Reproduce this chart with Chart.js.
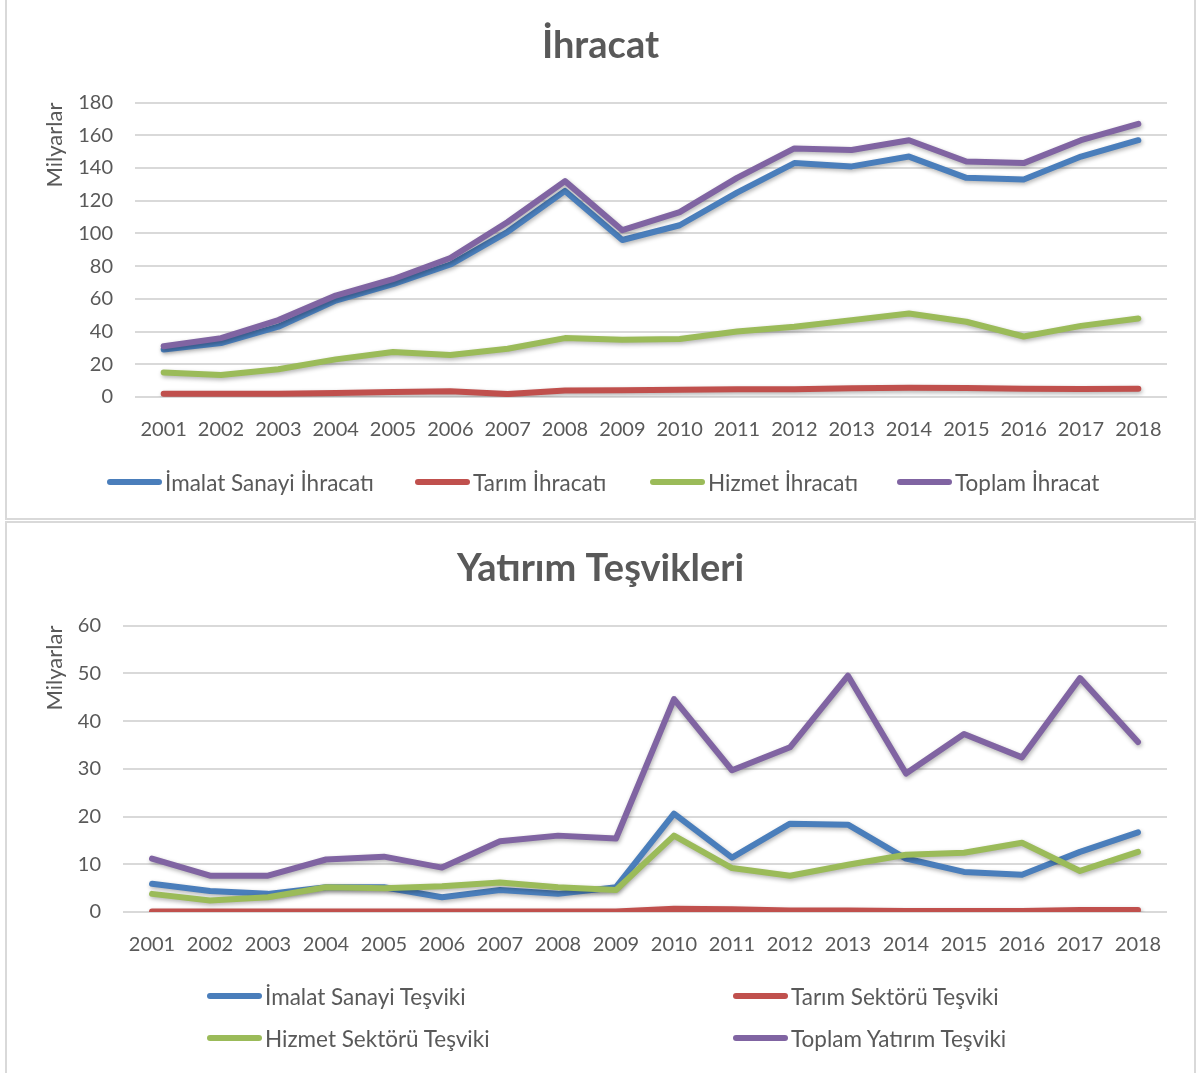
<!DOCTYPE html>
<html lang="tr">
<head>
<meta charset="utf-8">
<title>İhracat ve Yatırım Teşvikleri</title>
<script src="https://cdn.jsdelivr.net/npm/chart.js@4.4.1/dist/chart.umd.min.js"></script>
<style>
    body { margin: 0; background: #fff; width: 1196px; height: 1073px; overflow: hidden; position: relative; font-family: Lato, sans-serif; }
    .box { position: absolute; left: 5px; width: 1191px; border: 2px solid #d9d9d9; box-sizing: border-box; }
    #box1 { top: -2px; height: 522px; }
    #box2 { top: 521px; height: 560px; }
    .wrap { position: absolute; left: 0; top: 0; width: 1187px; }
    .legend { position: absolute; left: 0; top: 0; width: 1187px; height: 100%; pointer-events: none; }
    .item { position: absolute; display: flex; align-items: center; height: 28px; margin-top: -14px; font-size: 22.5px; color: #595959; white-space: nowrap; }
    .item .swatch { display: inline-block; width: 55px; height: 6px; border-radius: 3px; margin-right: 3px; }
</style>
</head>
<body>
<div class="box" id="box1">
    <div class="wrap" style="height:460px"><canvas id="ihracatChart"></canvas></div>
    <div class="legend" id="ihracatLegend"></div>
</div>
<div class="box" id="box2">
    <div class="wrap" style="height:452px"><canvas id="tesvikChart"></canvas></div>
    <div class="legend" id="tesvikLegend"></div>
</div>
<script>
// years on the x axis
const years = ['2001','2002','2003','2004','2005','2006','2007','2008','2009','2010','2011','2012','2013','2014','2015','2016','2017','2018'];

// İhracat (milyar)
const ihracatImalat = [29, 33, 43, 59, 69, 81, 101, 126, 96, 105, 125, 143, 141, 147, 134, 133, 147, 157];
const ihracatTarim  = [2, 2, 2, 2.5, 3, 3.5, 1.8, 4, 4.2, 4.5, 4.8, 4.8, 5.3, 5.7, 5.5, 5, 4.9, 5];
const ihracatHizmet = [15, 13.5, 17, 23, 27.5, 25.7, 29.5, 36, 35, 35.5, 40, 43, 47, 51, 46, 37, 43.5, 48];
const ihracatToplam = [31, 36, 47, 62, 72, 85, 107, 132, 102, 113, 134, 152, 151, 157, 144, 143, 157, 167];
const ihracatLabels = ['İmalat Sanayi İhracatı', 'Tarım İhracatı', 'Hizmet İhracatı', 'Toplam İhracat'];
const ihracatTicks = [0, 20, 40, 60, 80, 100, 120, 140, 160, 180];

// Yatırım teşvikleri (milyar)
const tesvikImalat = [5.9, 4.4, 3.8, 5.2, 5.2, 3.1, 4.6, 3.8, 5.2, 20.6, 11.4, 18.5, 18.3, 11.2, 8.4, 7.8, 12.6, 16.7];
const tesvikTarim  = [0.1, 0.1, 0.1, 0.1, 0.1, 0.1, 0.1, 0.1, 0.1, 0.7, 0.6, 0.3, 0.3, 0.2, 0.2, 0.2, 0.4, 0.4];
const tesvikHizmet = [3.8, 2.4, 3.1, 5.2, 5.0, 5.4, 6.2, 5.2, 4.6, 16, 9.2, 7.6, 9.9, 12, 12.4, 14.5, 8.6, 12.6];
const tesvikToplam = [11.2, 7.6, 7.6, 11, 11.6, 9.3, 14.8, 16, 15.4, 44.6, 29.7, 34.5, 49.5, 29, 37.3, 32.4, 49, 35.6];
const tesvikLabels = ['İmalat Sanayi Teşviki', 'Tarım Sektörü Teşviki', 'Hizmet Sektörü Teşviki', 'Toplam Yatırım Teşviki'];
const tesvikTicks = [0, 10, 20, 30, 40, 50, 60];

const colors = ['#4A7EBB', '#C0504D', '#9BBB59', '#8064A2'];
const textColor = '#595959';

Chart.defaults.font.family = 'Lato, sans-serif';
Chart.defaults.color = textColor;

// soft drop shadow under each line, like the office chart
const lineShadow = {
    id: 'lineShadow',
    beforeDatasetDraw(chart) {
        const c = chart.ctx;
        c.save();
        c.shadowColor = 'rgba(0,0,0,0.3)';
        c.shadowBlur = 4;
        c.shadowOffsetX = 1;
        c.shadowOffsetY = 2;
    },
    afterDatasetDraw(chart) {
        chart.ctx.restore();
    }
};

function makeDatasets(labels, series) {
    return series.map((values, i) => ({
        label: labels[i],
        data: values,
        borderColor: colors[i],
        backgroundColor: colors[i],
        borderWidth: 6,
        borderCapStyle: 'round',
        borderJoinStyle: 'round',
        pointRadius: 0,
        tension: 0,
        order: 3 - i
    }));
}

function createChart(id, title, labels, series, ticks, yAxisWidth) {
    const ctx = document.getElementById(id);
    return new Chart(ctx, {
        type: 'line',
        data: { labels: years, datasets: makeDatasets(labels, series) },
        plugins: [lineShadow],
        options: {
            responsive: true,
            maintainAspectRatio: false,
            animation: false,
            layout: { padding: { left: 27, right: 27, top: 0, bottom: 0 } },
            scales: {
                x: {
                    offset: true,
                    grid: { display: false },
                    border: { display: false },
                    ticks: { font: { size: 20 }, color: textColor, padding: 13, maxRotation: 0, autoSkip: false },
                    afterFit: scale => { scale.height = 63; }
                },
                y: {
                    min: ticks[0],
                    max: ticks[ticks.length - 1],
                    grid: { color: '#d9d9d9', lineWidth: 2, drawTicks: false },
                    border: { display: false },
                    ticks: { stepSize: ticks[1] - ticks[0], font: { size: 20 }, color: textColor, padding: 22 },
                    title: { display: true, text: 'Milyarlar', align: 'end', font: { size: 22 }, color: textColor, padding: { top: 8, bottom: 0 } },
                    afterFit: scale => { scale.width = yAxisWidth; }
                }
            },
            plugins: {
                legend: { display: false },
                tooltip: { enabled: false },
                title: {
                    display: true,
                    text: title,
                    color: textColor,
                    font: { size: 38, weight: 'bold' },
                    padding: { top: 23, bottom: 34 }
                }
            }
        }
    });
}

function createLegend(id, labels, spots) {
    const box = document.getElementById(id);
    labels.forEach((label, i) => {
        const item = document.createElement('div');
        item.className = 'item';
        item.style.left = spots[i][0] + 'px';
        item.style.top = spots[i][1] + 'px';
        const sw = document.createElement('span');
        sw.className = 'swatch';
        sw.style.background = colors[i];
        item.appendChild(sw);
        item.appendChild(document.createTextNode(label));
        box.appendChild(item);
    });
}

createChart('ihracatChart', 'İhracat', ihracatLabels, [ihracatImalat, ihracatTarim, ihracatHizmet, ihracatToplam], ihracatTicks, 101);
createChart('tesvikChart', 'Yatırım Teşvikleri', tesvikLabels, [tesvikImalat, tesvikTarim, tesvikHizmet, tesvikToplam], tesvikTicks, 89);

createLegend('ihracatLegend', ihracatLabels, [[100, 482], [408, 482], [643, 482], [890, 482]]);
createLegend('tesvikLegend', tesvikLabels, [[200, 473], [726, 473], [200, 515], [726, 515]]);
</script>
</body>
</html>
